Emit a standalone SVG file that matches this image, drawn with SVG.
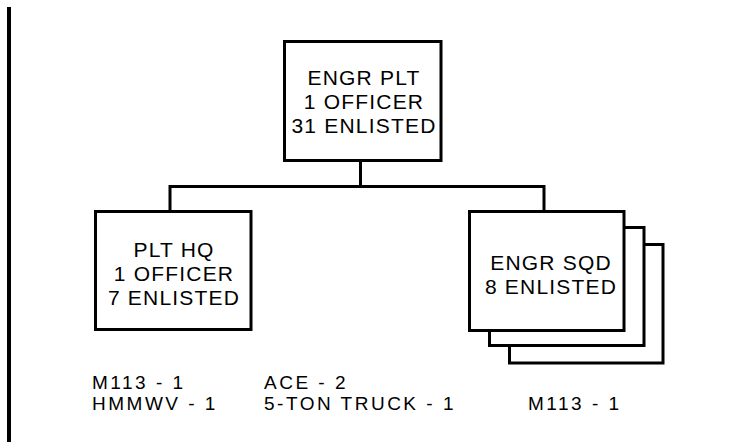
<svg xmlns="http://www.w3.org/2000/svg" width="730" height="442" viewBox="0 0 730 442">
<style>
.box{fill:#fff;stroke:#000;stroke-width:3}
.ln{fill:none;stroke:#000;stroke-width:3}
.t{font-family:"Liberation Sans",Arial,sans-serif;font-size:21px;letter-spacing:1.2px;fill:#000;text-anchor:middle}
.e{font-family:"Liberation Sans",Arial,sans-serif;font-size:19px;letter-spacing:2.5px;fill:#000}
</style>
<rect x="0" y="0" width="730" height="442" fill="#fff"/>
<rect x="7" y="7" width="4" height="435" fill="#000"/>
<g id="connectors">
<path class="ln" d="M360.5 160 V186.5 M170 186.5 H544 M170 185 V211 M544 185 V211"/>
</g>
<g id="engr-plt">
<rect class="box" x="284.5" y="41.5" width="156.5" height="119"/>
<text class="t" x="364" y="85">ENGR PLT</text>
<text class="t" x="364" y="109">1 OFFICER</text>
<text class="t" x="364" y="133">31 ENLISTED</text>
</g>
<g id="plt-hq">
<rect class="box" x="95.5" y="211.5" width="155.5" height="118"/>
<text class="t" x="174" y="257">PLT HQ</text>
<text class="t" x="174" y="281">1 OFFICER</text>
<text class="t" x="174" y="305">7 ENLISTED</text>
</g>
<g id="engr-sqd">
<rect class="box" x="509.5" y="244.5" width="153.5" height="118.5"/>
<rect class="box" x="489.5" y="227.5" width="154.5" height="118"/>
<rect class="box" x="469.5" y="211.5" width="154.5" height="119"/>
<text class="t" x="551" y="270">ENGR SQD</text>
<text class="t" x="551" y="294">8 ENLISTED</text>
</g>
<g id="equipment">
<text class="e" x="92" y="389">M113 - 1</text>
<text class="e" x="92" y="410">HMMWV - 1</text>
<text class="e" x="264" y="389">ACE - 2</text>
<text class="e" x="264" y="410">5-TON TRUCK - 1</text>
<text class="e" x="528" y="410">M113 - 1</text>
</g>
</svg>
